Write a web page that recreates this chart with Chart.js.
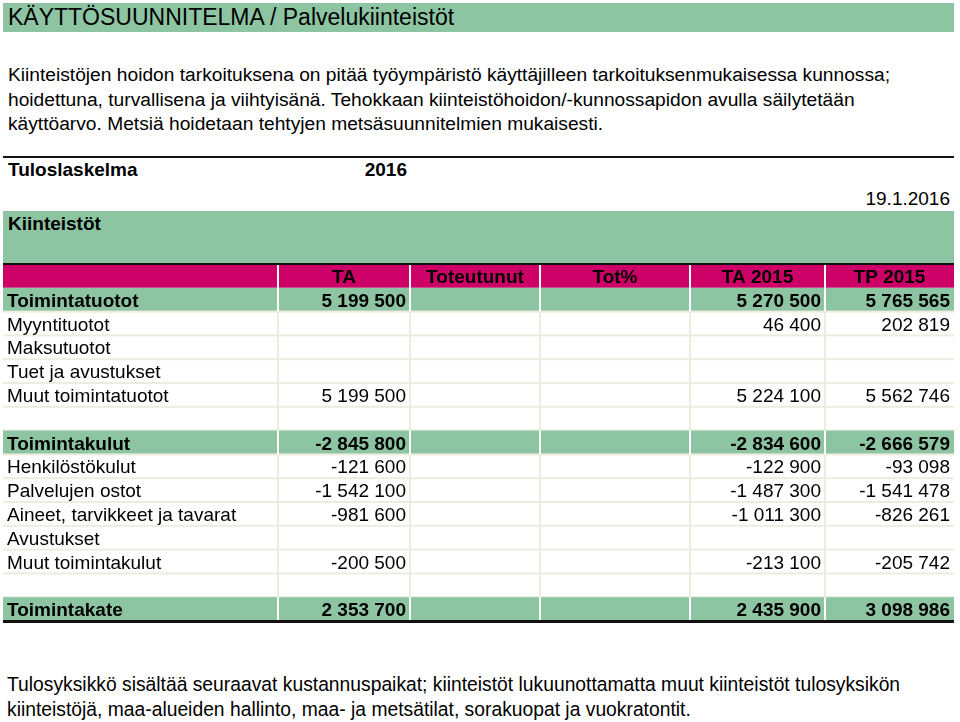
<!DOCTYPE html>
<html>
<head>
<meta charset="utf-8">
<script src="https://cdn.jsdelivr.net/npm/chart.js@4.4.1/dist/chart.umd.min.js"></script>
<style>
  body { margin: 0; background: #fff; width: 960px; height: 722px; overflow: hidden; position: relative;
         font-family: "Liberation Sans", Arial, sans-serif; color: #000; }
  .abs { position: absolute; white-space: nowrap; }
  #title { left: 3px; top: 3px; width: 951px; height: 29px; line-height: 29px; background: #8DC5A3;
           font-size: 23px; padding-left: 5px; box-sizing: border-box; }
  #intro { left: 8px; top: 63px; font-size: 19.2px; line-height: 24.5px; }
  #rule1 { left: 3px; top: 156px; width: 951px; height: 2px; background: #111; }
  #tulos { left: 8px; top: 158px; font-size: 19px; line-height: 24px; font-weight: bold; }
  #year { left: 300px; width: 107px; text-align: right; top: 158px; font-size: 19px; line-height: 24px; font-weight: bold; }
  #date { left: 800px; width: 150px; text-align: right; top: 187px; font-size: 19px; line-height: 24px; }
  #band { left: 3px; top: 211px; width: 951px; height: 52px; background: #8DC5A3; }
  #bandText { left: 8px; top: 212px; font-size: 19px; line-height: 24px; font-weight: bold; }
  #tableCanvas { position: absolute; left: 0; top: 262px; }
  #footer { left: 7px; top: 673px; font-size: 19.3px; line-height: 24.5px; }
</style>
</head>
<body>
<div id="title" class="abs">KÄYTTÖSUUNNITELMA / Palvelukiinteistöt</div>
<div id="intro" class="abs">Kiinteistöjen hoidon tarkoituksena on pitää työympäristö käyttäjilleen tarkoituksenmukaisessa kunnossa;<br>hoidettuna, turvallisena ja viihtyisänä. Tehokkaan kiinteistöhoidon/-kunnossapidon avulla säilytetään<br>käyttöarvo. Metsiä hoidetaan tehtyjen metsäsuunnitelmien mukaisesti.</div>
<div id="rule1" class="abs"></div>
<div id="tulos" class="abs">Tuloslaskelma</div>
<div id="year" class="abs">2016</div>
<div id="date" class="abs">19.1.2016</div>
<div id="band" class="abs"></div>
<div id="bandText" class="abs">Kiinteistöt</div>
<canvas id="tableCanvas" width="960" height="362"></canvas>
<div id="footer" class="abs">Tulosyksikkö sisältää seuraavat kustannuspaikat; kiinteistöt lukuunottamatta muut kiinteistöt tulosyksikön<br>kiinteistöjä, maa-alueiden hallinto, maa- ja metsätilat, sorakuopat ja vuokratontit.</div>

<script>
// table data
const columns = ['TA', 'Toteutunut', 'Tot%', 'TA 2015', 'TP 2015'];
const rowLabels = [
    'Toimintatuotot', 'Myyntituotot', 'Maksutuotot', 'Tuet ja avustukset', 'Muut toimintatuotot', '',
    'Toimintakulut', 'Henkilöstökulut', 'Palvelujen ostot', 'Aineet, tarvikkeet ja tavarat', 'Avustukset',
    'Muut toimintakulut', '', 'Toimintakate'
];
const boldRows = ['Toimintatuotot', 'Toimintakulut', 'Toimintakate'];
const taValues = [5199500, null, null, null, 5199500, null, -2845800, -121600, -1542100, -981600, null, -200500, null, 2353700];
const toteutunutValues = [null, null, null, null, null, null, null, null, null, null, null, null, null, null];
const totPctValues = [null, null, null, null, null, null, null, null, null, null, null, null, null, null];
const ta2015Values = [5270500, 46400, null, null, 5224100, null, -2834600, -122900, -1487300, -1011300, null, -213100, null, 2435900];
const tp2015Values = [5765565, 202819, null, null, 5562746, null, -2666579, -93098, -1541478, -826261, null, -205742, null, 3098986];

const valueColumns = [taValues, toteutunutValues, totPctValues, ta2015Values, tp2015Values];

// column edges on the x scale (layout only)
const colEdges = [3, 278, 410, 540, 690, 825, 954];
const GREEN = '#8DC5A3';
const MAGENTA = '#CC0066';
const GRID = '#ECECDF';
const FONT = '"Liberation Sans", Arial, sans-serif';

function fmt(n) {
    if (n === null || n === undefined) return '';
    const s = Math.abs(n).toString().replace(/\B(?=(\d{3})+(?!\d))/g, ' ');
    return (n < 0 ? '-' : '') + s;
}

const tablePlugin = {
    id: 'tablePlugin',
    afterDraw(chart) {
        const { ctx } = chart;
        const x = chart.scales.x;
        const y = chart.scales.y;
        const band = y.getPixelForValue(1) - y.getPixelForValue(0);
        const left = x.getPixelForValue(colEdges[0]);
        const right = x.getPixelForValue(colEdges[colEdges.length - 1]);
        const labels = chart.data.labels;

        ctx.save();
        labels.forEach((label, i) => {
            const top = y.getPixelForValue(i) - band / 2;
            const mid = y.getPixelForValue(i);
            const isHeader = i === 0;
            const isBold = boldRows.includes(label);

            if (isHeader || isBold) {
                ctx.fillStyle = isHeader ? MAGENTA : GREEN;
                ctx.fillRect(left, top, right - left, band);
            }
            // horizontal grid line at the row bottom
            if (!isHeader) {
                ctx.fillStyle = GRID;
                ctx.fillRect(left, top + band - 1, right - left, 2);
            }
            // vertical separators
            ctx.fillStyle = (isHeader || isBold) ? '#ffffff' : GRID;
            for (let c = 1; c < colEdges.length - 1; c++) {
                ctx.fillRect(x.getPixelForValue(colEdges[c]) - 1, top, 2, band);
            }

            ctx.fillStyle = '#000';
            ctx.textBaseline = 'alphabetic';
            if (isHeader) {
                ctx.font = 'bold 19px ' + FONT;
                ctx.textAlign = 'center';
                columns.forEach((col, c) => {
                    const cx = (x.getPixelForValue(colEdges[c + 1]) + x.getPixelForValue(colEdges[c + 2])) / 2;
                    ctx.fillText(col, cx, mid + 7);
                });
            } else {
                const r = i - 1;
                ctx.font = (isBold ? 'bold ' : '') + '19px ' + FONT;
                ctx.textAlign = 'left';
                ctx.fillText(label, left + 4, mid + 7);
                ctx.textAlign = 'right';
                valueColumns.forEach((vals, c) => {
                    ctx.fillText(fmt(vals[r]), x.getPixelForValue(colEdges[c + 2]) - 4, mid + 7);
                });
            }
        });

        // heavy rules above the header and below the last row
        ctx.fillStyle = '#111';
        const first = y.getPixelForValue(0) - band / 2;
        const last = y.getPixelForValue(labels.length - 1) + band / 2;
        ctx.fillRect(left, first - 1, right - left, 2);
        ctx.fillRect(left, last - 1, right - left, 3);
        ctx.restore();
    }
};

new Chart(document.getElementById('tableCanvas'), {
    type: 'bar',
    data: {
        labels: ['header', ...rowLabels],
        datasets: []
    },
    options: {
        indexAxis: 'y',
        responsive: false,
        animation: false,
        devicePixelRatio: 1,
        layout: { padding: { top: 2, bottom: 3, left: 0, right: 0 } },
        plugins: {
            legend: false,
            tooltip: { enabled: false }
        },
        scales: {
            x: { type: 'linear', min: 0, max: 960, display: false },
            y: { type: 'category', offset: true, display: false, grid: { display: false } }
        }
    },
    plugins: [tablePlugin]
});
</script>
</body>
</html>
